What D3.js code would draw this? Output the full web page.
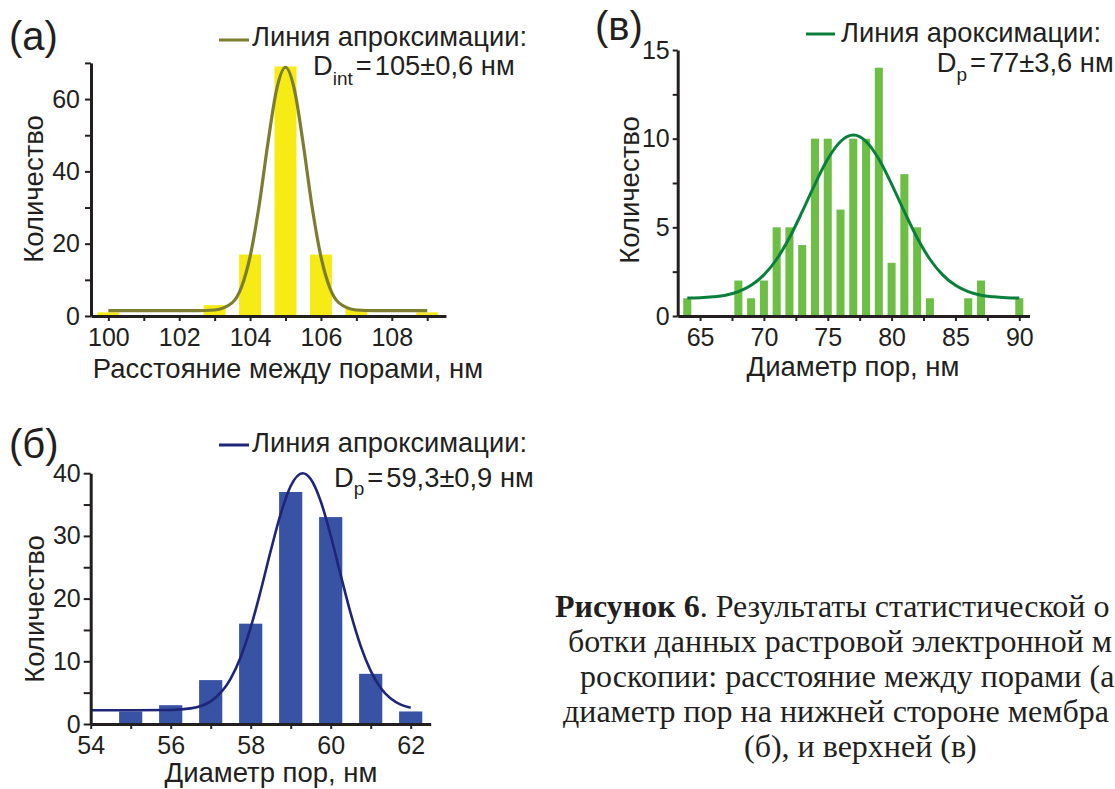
<!DOCTYPE html>
<html><head><meta charset="utf-8">
<script src="https://cdn.jsdelivr.net/npm/d3@7"></script>
<style>
html,body{margin:0;padding:0;background:#fff;}
svg{display:block;}
</style></head><body>
<svg id="fig" width="1115" height="789"></svg>
<script>
// ---------- Panel (а): distance between pores ----------
const aBins   = [100, 103, 104, 105, 106, 107, 109];
const aCounts = [1, 3, 17, 69, 17, 2, 1];
const aFitX = [100, 101, 102, 102.5, 103, 103.5, 103.75, 104, 104.25, 104.5, 104.75, 105, 105.25, 105.5, 105.75, 106, 106.25, 106.5, 107, 107.5, 108, 109];
const aFitY = [1.5, 1.5, 1.5, 1.5, 1.66, 3.7, 7.8, 16.4, 30.2, 47.6, 62.7, 68.8, 62.7, 47.6, 30.2, 16.4, 7.8, 3.7, 1.66, 1.5, 1.5, 1.5];
const aXTicks = [100, 102, 104, 106, 108];
const aXMinor = [101, 103, 105, 107, 109];
const aYTicks = [0, 20, 40, 60];
const aYMinor = [10, 30, 50, 70];
const aXTitle = "Расстояние между порами, нм";
const aLegend = "Линия апроксимации:";
const aFitMain = "D", aFitSub = "int", aFitValue = "105±0,6 нм";
const aLabel = "(а)";

// ---------- Panel (в): pore diameter, upper side ----------
const vBins   = [64, 68, 69, 70, 71, 72, 73, 74, 75, 76, 77, 78, 79, 80, 81, 82, 83, 86, 87, 90];
const vCounts = [1, 2, 1, 2, 5, 5, 4, 10, 10, 6, 10, 10, 14, 3, 8, 5, 1, 1, 2, 1];
const vFitX = [64, 65, 66, 67, 68, 69, 70, 71, 72, 73, 74, 75, 76, 77, 78, 79, 80, 81, 82, 83, 84, 85, 86, 87, 88, 89, 90];
const vFitY = [1.01, 1.03, 1.08, 1.17, 1.37, 1.73, 2.32, 3.20, 4.41, 5.88, 7.44, 8.85, 9.84, 10.2, 9.84, 8.85, 7.44, 5.88, 4.41, 3.20, 2.32, 1.73, 1.37, 1.17, 1.08, 1.03, 1.01];
const vXTicks = [65, 70, 75, 80, 85, 90];
const vXMinor = [67.5, 72.5, 77.5, 82.5, 87.5];
const vYTicks = [0, 5, 10, 15];
const vYMinor = [2.5, 7.5, 12.5];
const vXTitle = "Диаметр пор, нм";
const vLegend = "Линия ароксимации:";
const vFitMain = "D", vFitSub = "p", vFitValue = "77±3,6 нм";
const vLabel = "(в)";

// ---------- Panel (б): pore diameter, lower side ----------
const bBins   = [55, 56, 57, 58, 59, 60, 61, 62];
const bCounts = [2, 3, 7, 16, 37, 33, 8, 2];
const bFitX = [54, 55, 56, 56.5, 57, 57.5, 57.75, 58, 58.25, 58.5, 58.75, 59, 59.3, 59.5, 59.75, 60, 60.25, 60.5, 60.75, 61, 61.25, 61.5, 61.75, 62];
const bFitY = [2.2, 2.2, 2.24, 2.49, 3.61, 7.23, 10.68, 15.4, 21.25, 27.6, 33.5, 37.96, 40.0, 39.06, 35.53, 30.06, 23.75, 17.63, 12.42, 8.47, 5.75, 4.06, 3.10, 2.6];
const bXTicks = [54, 56, 58, 60, 62];
const bXMinor = [55, 57, 59, 61];
const bYTicks = [0, 10, 20, 30, 40];
const bYMinor = [5, 15, 25, 35];
const bXTitle = "Диаметр пор, нм";
const bLegend = "Линия апроксимации:";
const bFitMain = "D", bFitSub = "p", bFitValue = "59,3±0,9 нм";
const bLabel = "(б)";

const yTitle = "Количество";

// ---------- Caption (as visible in the figure, cut by the page edge) ----------
const captionBold = "Рисунок 6";
const captionLines = [
  ". Результаты статистической о",
  "ботки данных растровой электронной м",
  "роскопии: расстояние между порами (а",
  "диаметр пор на нижней стороне мембра",
  "(б), и верхней (в)"
];

// ================= drawing =================
const svg = d3.select("#fig");
const INK = "#231f20";
const SANS = "'Liberation Sans', Arial, sans-serif";
const TITLE_SIZE = 27.5;
const LEGEND_SIZE = 27.3;

function drawPanel(p) {
  const x = d3.scaleLinear().domain(p.xDomain).range(p.xRange);
  const y = d3.scaleLinear().domain(p.yDomain).range(p.yRange);
  const g = svg.append("g");

  const bars = p.bins.map((b, i) => ({ b, c: p.counts[i] }));
  g.selectAll("rect.bar").data(bars).join("rect")
    .attr("class", "bar")
    .attr("x", d => x(d.b - p.barW / 2))
    .attr("width", d => x(d.b + p.barW / 2) - x(d.b - p.barW / 2))
    .attr("y", d => y(d.c))
    .attr("height", d => y(0) - y(d.c))
    .attr("fill", p.barColor);

  const line = d3.line().x(d => x(d[0])).y(d => y(d[1])).curve(d3.curveMonotoneX);
  g.append("path")
    .datum(p.fitX.map((v, i) => [v, p.fitY[i]]))
    .attr("d", line)
    .attr("fill", "none")
    .attr("stroke", p.lineColor)
    .attr("stroke-width", p.lineW)
    .attr("stroke-linejoin", "round");

  // minor ticks
  g.append("g").attr("transform", `translate(0,${y(0)})`)
    .call(d3.axisBottom(x).tickValues(p.xMinor).tickSize(p.xTick).tickFormat(() => ""))
    .call(a => a.select(".domain").remove());
  g.append("g").attr("transform", `translate(${x(p.xDomain[0])},0)`)
    .call(d3.axisLeft(y).tickValues(p.yMinor).tickSize(p.yTick).tickFormat(() => ""))
    .call(a => a.select(".domain").remove());

  // major axes
  const xa = g.append("g").attr("transform", `translate(0,${y(0)})`)
    .call(d3.axisBottom(x).tickValues(p.xTicks).tickSize(p.xTick).tickPadding(p.xPad).tickSizeOuter(0));
  const ya = g.append("g").attr("transform", `translate(${x(p.xDomain[0])},0)`)
    .call(d3.axisLeft(y).tickValues(p.yTicks).tickSize(p.yTick).tickPadding(p.yPad).tickSizeOuter(0));

  [xa, ya].forEach(a => {
    a.attr("font-family", SANS).attr("font-size", 25);
    a.selectAll("text").attr("fill", INK);
    a.select(".domain").attr("stroke", INK).attr("stroke-width", 3);
  });
  g.selectAll(".tick line").attr("stroke", INK).attr("stroke-width", 2);

  // titles
  g.append("text")
    .attr("x", p.xTitlePos[0]).attr("y", p.xTitlePos[1])
    .attr("text-anchor", "middle")
    .attr("font-family", SANS).attr("font-size", TITLE_SIZE).attr("fill", INK)
    .text(p.xTitle);
  g.append("text")
    .attr("transform", `translate(${p.yTitlePos[0]},${p.yTitlePos[1]}) rotate(-90)`)
    .attr("text-anchor", "middle")
    .attr("font-family", SANS).attr("font-size", TITLE_SIZE).attr("fill", INK)
    .text(yTitle);

  // panel label
  g.append("text")
    .attr("x", p.labelPos[0]).attr("y", p.labelPos[1])
    .attr("font-family", SANS).attr("font-size", 40).attr("fill", INK)
    .text(p.label);

  // legend
  g.append("line")
    .attr("x1", p.legLine[0]).attr("x2", p.legLine[1])
    .attr("y1", p.legLine[2]).attr("y2", p.legLine[2])
    .attr("stroke", p.lineColor).attr("stroke-width", 3);
  g.append("text")
    .attr("x", p.legText[0]).attr("y", p.legText[1])
    .attr("font-family", SANS).attr("font-size", LEGEND_SIZE).attr("fill", INK)
    .text(p.legend);
  const t = g.append("text")
    .attr("x", p.fitText[0]).attr("y", p.fitText[1])
    .attr("font-family", SANS).attr("font-size", LEGEND_SIZE).attr("fill", INK);
  t.append("tspan").text(p.fitMain);
  t.append("tspan").attr("font-size", 19).attr("dy", p.subDy).text(p.fitSub);
  t.append("tspan").attr("dy", -p.subDy).attr("dx", 3).text("=");
  t.append("tspan").attr("dx", 3).text(p.fitValue);
}

drawPanel({
  bins: aBins, counts: aCounts, fitX: aFitX, fitY: aFitY,
  xTicks: aXTicks, xMinor: aXMinor, yTicks: aYTicks, yMinor: aYMinor,
  xDomain: [99.51, 109.53], xRange: [91, 446],
  yDomain: [0, 70], yRange: [316, 62.9],
  barW: 0.62, barColor: "#f6eb14", lineColor: "#7d7d32", lineW: 3.2,
  xTick: 5, xPad: 7, yTick: 6, yPad: 5,
  xTitle: aXTitle, xTitlePos: [288, 378],
  yTitlePos: [43, 189],
  label: aLabel, labelPos: [9, 50],
  legLine: [219, 249, 40], legText: [252, 46], legend: aLegend,
  fitText: [313, 75], subDy: 10, fitMain: aFitMain, fitSub: aFitSub, fitValue: aFitValue
});

drawPanel({
  bins: vBins, counts: vCounts, fitX: vFitX, fitY: vFitY,
  xTicks: vXTicks, xMinor: vXMinor, yTicks: vYTicks, yMinor: vYMinor,
  xDomain: [63.25, 90.8], xRange: [677.7, 1029.5],
  yDomain: [0, 15], yRange: [316, 50],
  barW: 0.63, barColor: "#6cbe45", lineColor: "#0a7f3c", lineW: 3,
  xTick: 5, xPad: 7, yTick: 5, yPad: 3,
  xTitle: vXTitle, xTitlePos: [853, 376],
  yTitlePos: [638.5, 190],
  label: vLabel, labelPos: [595, 40],
  legLine: [806, 835, 34], legText: [841, 42], legend: vLegend,
  fitText: [936.7, 71.7], subDy: 9, fitMain: vFitMain, fitSub: vFitSub, fitValue: vFitValue
});

drawPanel({
  bins: bBins, counts: bCounts, fitX: bFitX, fitY: bFitY,
  xTicks: bXTicks, xMinor: bXMinor, yTicks: bYTicks, yMinor: bYMinor,
  xDomain: [54, 62.5], xRange: [90.7, 430.7],
  yDomain: [0, 40], yRange: [724, 473.2],
  barW: 0.58, barColor: "#3953a4", lineColor: "#1f2577", lineW: 2.6,
  xTick: 5, xPad: 7, yTick: 7, yPad: 3,
  xTitle: bXTitle, xTitlePos: [271, 782],
  yTitlePos: [43.5, 609],
  label: bLabel, labelPos: [9, 458],
  legLine: [219, 249, 445], legText: [252, 452], legend: bLegend,
  fitText: [334, 487], subDy: 8, fitMain: bFitMain, fitSub: bFitSub, fitValue: bFitValue
});

// caption
const capX = [555, 568, 580, 563, 744];
const cap = svg.append("g")
  .attr("font-family", "'Liberation Serif', 'Times New Roman', serif")
  .attr("font-size", 32).attr("fill", INK);
captionLines.forEach((ln, i) => {
  const t = cap.append("text").attr("x", capX[i]).attr("y", 617 + i * 35);
  if (i === 0) t.append("tspan").attr("font-weight", "bold").text(captionBold);
  t.append("tspan").text(ln);
});
</script>
</body></html>
